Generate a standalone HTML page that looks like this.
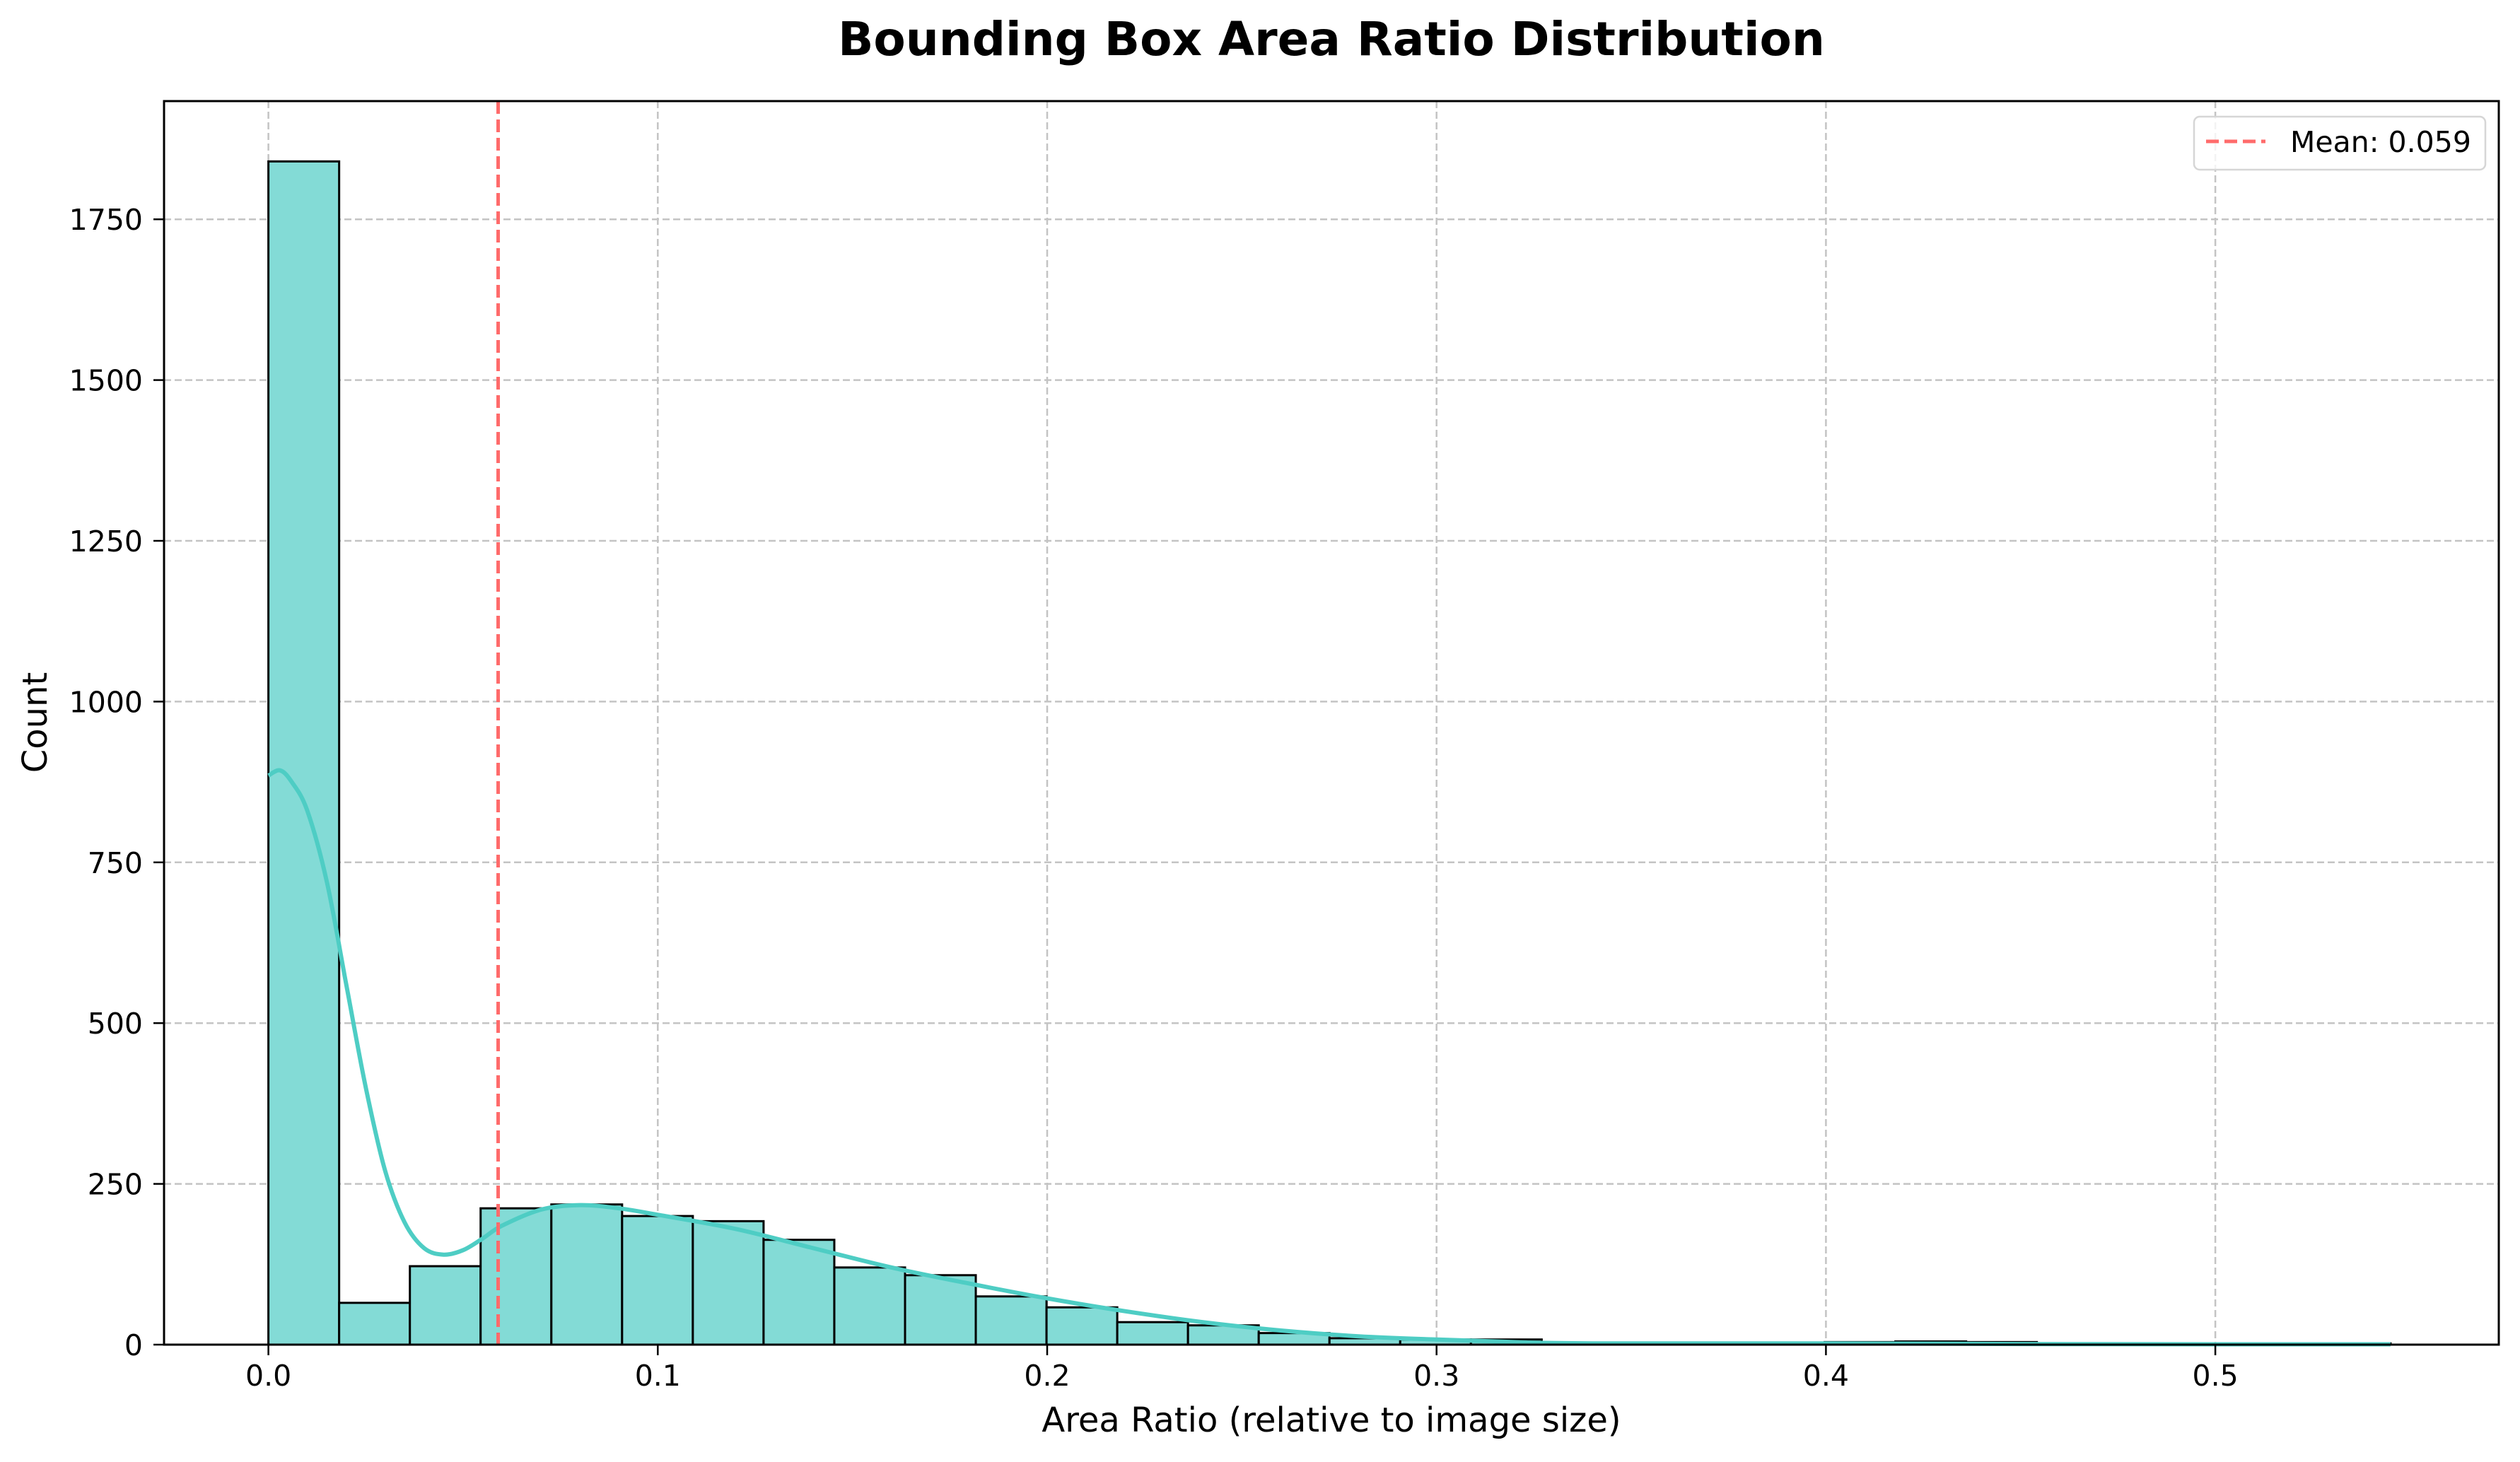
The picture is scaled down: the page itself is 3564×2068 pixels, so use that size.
<!DOCTYPE html>
<html><head><meta charset="utf-8"><style>
body{margin:0;background:#fff}
svg{display:block;font-family:"DejaVu Sans","Liberation Sans",sans-serif}
</style></head><body>
<svg id="chart" width="3564" height="2068" viewBox="0 0 3564 2068" xmlns="http://www.w3.org/2000/svg">
<rect width="3564" height="2068" fill="#fff"/>
<g id="grid"></g>
<g id="bars"></g>
<g id="kde"></g>
<g id="axes"></g>
<text x="1883" y="78" text-anchor="middle" font-size="66" font-weight="bold">Bounding Box Area Ratio Distribution</text>
<text x="1883" y="2025" text-anchor="middle" font-size="48">Area Ratio (relative to image size)</text>
<text transform="translate(66,1022) rotate(-90)" text-anchor="middle" font-size="48">Count</text>
<g>
<rect x="3103" y="165" width="412" height="75" rx="8" fill="#fff" fill-opacity="0.8" stroke="#d6d6d6" stroke-width="2.5"/>
<line x1="3120" y1="200" x2="3204" y2="200" stroke="#FF6B6B" stroke-width="5" stroke-dasharray="18,8"/>
<text x="3239" y="215" font-size="41">Mean: 0.059</text>
</g>
</svg>
<script>
const binCounts = [1840, 65, 122, 212, 218, 200, 192, 163, 120, 108, 75, 58, 35, 30, 18, 10, 8, 8, 3, 2, 3, 3, 4, 5, 4, 2, 1, 1, 2, 2];
const binStart = 0.0;
const binEnd = 0.545;
const kdeX = [0,0.003,0.006,0.01,0.015,0.02,0.025,0.03,0.035,0.04,0.045,0.05,0.055,0.06,0.07,0.08,0.09,0.1,0.12,0.14,0.16,0.18,0.2,0.22,0.24,0.26,0.28,0.3,0.32,0.34,0.4,0.45,0.5,0.545];
const kdeY = [885,893,875,830,720,560,400,270,190,150,140,147,165,185,210,217,212,202,180,150,120,95,72,52,35,22,13,8,4,2,2,1,0.5,0.5];
const meanValue = 0.059;
const xTicks = [0.0,0.1,0.2,0.3,0.4,0.5];
const xTickLabels = ["0.0","0.1","0.2","0.3","0.4","0.5"];
const yTicks = [0,250,500,750,1000,1250,1500,1750];
const yTickLabels = ["0","250","500","750","1000","1250","1500","1750"];

const NS="http://www.w3.org/2000/svg";
const L=232,R=3534,T=143,B=1902;
const X=v=>379.6+v*5507;
const Y=v=>B-v*(227.4/250);
function mk(tag,attrs,parent){const e=document.createElementNS(NS,tag);for(const k in attrs)e.setAttribute(k,attrs[k]);parent.appendChild(e);return e;}
const grid=document.getElementById('grid'),bars=document.getElementById('bars'),kde=document.getElementById('kde'),axes=document.getElementById('axes');
xTicks.forEach((t,i)=>{
  const g=mk('line',{x1:X(t),x2:X(t),y1:T,y2:B,stroke:'#c4c4c4','stroke-width':2.5,'stroke-dasharray':'10,5'},grid);
  
  
  const tk=mk('line',{x1:X(t),x2:X(t),y1:B,y2:B+15,stroke:'#000','stroke-width':2.5},axes);
  
  
  const lb=mk('text',{x:X(t),y:B+58,'text-anchor':'middle','font-size':41},axes);
  lb.textContent=xTickLabels[i];
  
  
});
yTicks.forEach((t,i)=>{
  const g=mk('line',{x1:L,x2:R,y1:Y(t),y2:Y(t),stroke:'#c4c4c4','stroke-width':2.5,'stroke-dasharray':'10,5'},grid);
  
  
  const tk=mk('line',{x1:L-15,x2:L,y1:Y(t),y2:Y(t),stroke:'#000','stroke-width':2.5},axes);
  
  
  const lb=mk('text',{x:L-30,y:Y(t)+15,'text-anchor':'end','font-size':41},axes);
  lb.textContent=yTickLabels[i];
  
  
});
const bw=(binEnd-binStart)/binCounts.length;
binCounts.forEach((c,i)=>{
  const x0=X(binStart+i*bw),x1=X(binStart+(i+1)*bw);
  const r=mk('rect',{x:x0,y:Y(c),width:x1-x0,height:B-Y(c),fill:'#83dbd6',stroke:'#000','stroke-width':3},bars);
  
  
});
const pts=kdeX.map((v,i)=>[X(v),Y(kdeY[i])]);
let d='M'+pts[0][0].toFixed(1)+','+pts[0][1].toFixed(1);
for(let i=0;i<pts.length-1;i++){
  const p0=pts[Math.max(0,i-1)],p1=pts[i],p2=pts[i+1],p3=pts[Math.min(pts.length-1,i+2)];
  const c1=[p1[0]+(p2[0]-p0[0])/6,p1[1]+(p2[1]-p0[1])/6];
  const c2=[p2[0]-(p3[0]-p1[0])/6,p2[1]-(p3[1]-p1[1])/6];
  d+='C'+c1[0].toFixed(1)+','+c1[1].toFixed(1)+' '+c2[0].toFixed(1)+','+c2[1].toFixed(1)+' '+p2[0].toFixed(1)+','+p2[1].toFixed(1);
}
const p=mk('path',{d:d,fill:'none',stroke:'#4ECDC4','stroke-width':6,'stroke-linejoin':'round'},kde);


const m=mk('line',{x1:X(meanValue),x2:X(meanValue),y1:T,y2:B,stroke:'#FF6B6B','stroke-width':5,'stroke-dasharray':'18,8'},kde);


const f=mk('rect',{x:L,y:T,width:R-L,height:B-T,fill:'none',stroke:'#000','stroke-width':3},axes);


</script>
</body></html>
